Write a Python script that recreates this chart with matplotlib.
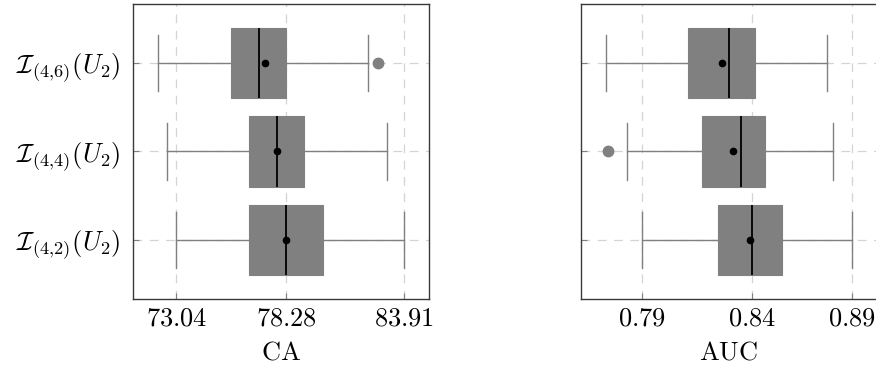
import numpy as np
import matplotlib.pyplot as plt

plt.rcParams['mathtext.fontset'] = 'cm'
plt.rcParams['font.family'] = 'serif'
plt.rcParams['font.serif'] = ['DejaVu Serif']

# rows from bottom to top
row_labels = [r'$\mathcal{I}_{(4{,}2)}(U_2)$',
              r'$\mathcal{I}_{(4{,}4)}(U_2)$',
              r'$\mathcal{I}_{(4{,}6)}(U_2)$']

# CA statistics per row: whisker low, q1, median, q3, whisker high, mean, outliers
ca_whislo = [73.04, 72.60, 72.17]
ca_q1 = [76.53, 76.53, 75.65]
ca_med = [78.28, 77.84, 76.98]
ca_q3 = [80.03, 79.15, 78.28]
ca_whishi = [83.91, 83.08, 82.20]
ca_mean = [78.28, 77.82, 77.25]
ca_fliers = [[], [], [82.65]]
ca_ticks = [73.04, 78.28, 83.91]
ca_ticklabels = ['73.04', '78.28', '83.91']

# AUC statistics per row
auc_whislo = [0.7885, 0.7814, 0.7714]
auc_q1 = [0.8248, 0.8174, 0.8107]
auc_med = [0.8412, 0.8358, 0.8302]
auc_q3 = [0.8555, 0.8471, 0.8426]
auc_whishi = [0.8888, 0.8797, 0.8767]
auc_mean = [0.8399, 0.8320, 0.8266]
auc_fliers = [[], [0.7725], []]
auc_ticks = [0.7885, 0.8412, 0.8888]
auc_ticklabels = ['0.79', '0.84', '0.89']


def make_stats(lo, q1, med, q3, hi, mean, fliers):
    return [dict(whislo=lo[i], q1=q1[i], med=med[i], q3=q3[i], whishi=hi[i],
                 mean=mean[i], fliers=fliers[i]) for i in range(len(lo))]


def draw(ax, stats, ticks, ticklabels, xlim, xlabel, show_ylabels):
    grey = '#808080'
    ax.bxp(stats, positions=[1, 2, 3], widths=0.8, orientation='horizontal',
           patch_artist=True, showmeans=True, capwidths=0.64,
           boxprops=dict(facecolor=grey, edgecolor=grey, linewidth=0.8),
           medianprops=dict(color='black', linewidth=1.3),
           whiskerprops=dict(color=grey, linewidth=1.0),
           capprops=dict(color=grey, linewidth=1.0),
           meanprops=dict(marker='o', markerfacecolor='black', markeredgecolor='black', markersize=4.5),
           flierprops=dict(marker='o', markerfacecolor=grey, markeredgecolor=grey, markersize=7.5))
    ax.set_xlim(*xlim)
    ax.set_ylim(0.333, 3.667)
    ax.set_xticks(ticks, ['$' + t + '$' for t in ticklabels])
    ax.set_yticks([1, 2, 3], row_labels if show_ylabels else [])
    ax.set_axisbelow(True)
    ax.grid(True, linestyle=(0, (7, 6)), color='#d4d4d4', linewidth=0.9)
    ax.tick_params(direction='in', length=4, color='#808080', labelsize=19, pad=5)
    ax.tick_params(axis='y', pad=9)
    for s in ax.spines.values():
        s.set_color('#3a3a3a')
        s.set_linewidth(1.0)
    ax.set_xlabel(r'$\mathrm{' + xlabel + '}$', fontsize=19, labelpad=6)


fig = plt.figure(figsize=(8.76, 3.68), dpi=100)
ax1 = fig.add_axes([133.3 / 876, 1 - 299 / 368, 295.7 / 876, 295 / 368])
ax2 = fig.add_axes([581 / 876, 1 - 299 / 368, 295.7 / 876, 295 / 368])

draw(ax1, make_stats(ca_whislo, ca_q1, ca_med, ca_q3, ca_whishi, ca_mean, ca_fliers),
     ca_ticks, ca_ticklabels, (70.99, 85.09), 'CA', True)
draw(ax2, make_stats(auc_whislo, auc_q1, auc_med, auc_q3, auc_whishi, auc_mean, auc_fliers),
     auc_ticks, auc_ticklabels, (0.7596, 0.9004), 'AUC', False)

fig.savefig('out.png', dpi=100)
